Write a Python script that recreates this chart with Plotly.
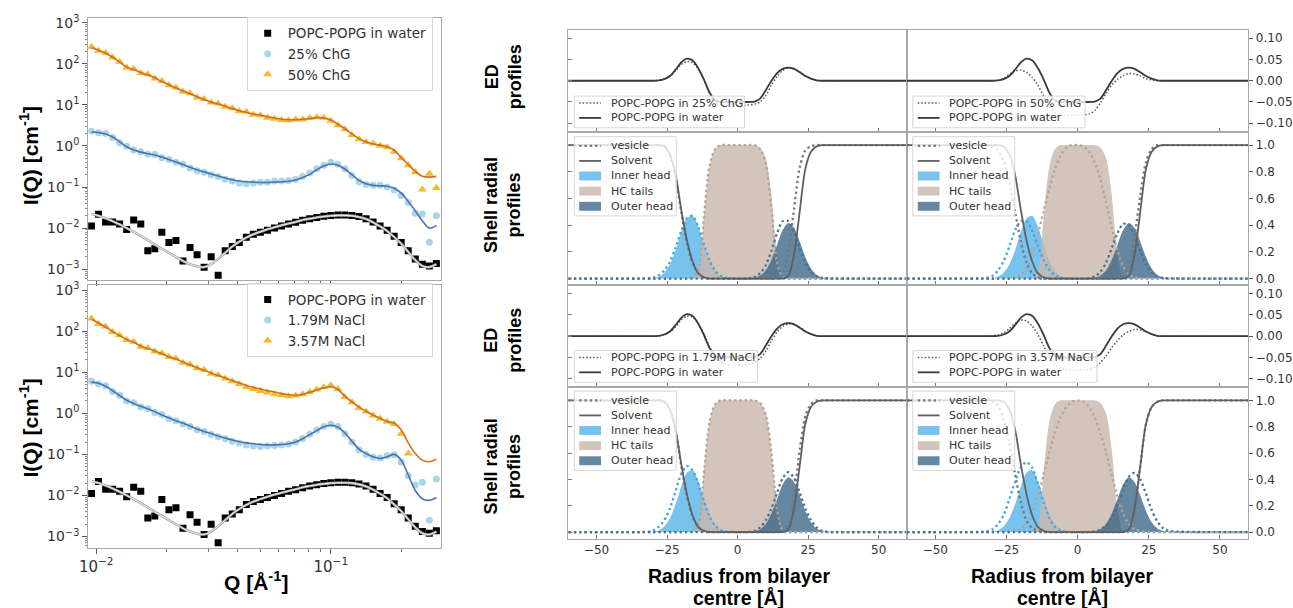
import plotly.graph_objects as go

# ---------------- SAXS data (left panels) ----------------
Q = [0.00955, 0.01023, 0.01097, 0.01175, 0.01259, 0.01349, 0.01445, 0.01549, 0.01660, 0.01778,
     0.01905, 0.02042, 0.02188, 0.02344, 0.02512, 0.02692, 0.02884, 0.03090, 0.03311, 0.03548,
     0.03802, 0.04074, 0.04365, 0.04677, 0.05012, 0.05370, 0.05754, 0.06166, 0.06607, 0.07079,
     0.07586, 0.08128, 0.08710, 0.09333, 0.1000, 0.1072, 0.1148, 0.1230, 0.1318, 0.1413,
     0.1514, 0.1622, 0.1738, 0.1862, 0.1995, 0.2138, 0.2291, 0.2455, 0.2630, 0.2818]

DATA_WATER = [0.0112, 0.0219, 0.0141, 0.0141, 0.0126, 0.0093, 0.0158, 0.0126, 0.00282, 0.00316,
              0.00794, 0.00447, 0.00501, 0.00158, 0.00339, 0.00224, 0.00112, 0.00200, 0.000708, 0.00282,
              0.00355, 0.00447, 0.00603, 0.00708, 0.00794, 0.00891, 0.0100, 0.0112, 0.0126, 0.0138,
              0.0155, 0.0170, 0.0182, 0.0195, 0.0204, 0.0209, 0.0209, 0.0204, 0.0191, 0.0170,
              0.0141, 0.0112, 0.00891, 0.00631, 0.00447, 0.00282, 0.00178, 0.00132, 0.00120, 0.00138]
FIT_WATER = [0.0224, 0.0200, 0.0174, 0.0148, 0.0123, 0.0100, 0.00813, 0.00646, 0.00513, 0.00398,
             0.00316, 0.00251, 0.00200, 0.00158, 0.00132, 0.00117, 0.00112, 0.00132, 0.00178, 0.00251,
             0.00355, 0.00468, 0.00589, 0.00708, 0.00813, 0.00933, 0.0105, 0.0117, 0.0129, 0.0141,
             0.0158, 0.0170, 0.0182, 0.0191, 0.0200, 0.0204, 0.0204, 0.0200, 0.0186, 0.0166,
             0.0138, 0.0110, 0.00851, 0.00603, 0.00417, 0.00263, 0.00166, 0.00120, 0.00112, 0.00132]

DATA_CHG25 = [2.30, 2.10, 2.00, 1.60, 1.20, 0.98, 0.80, 0.72, 0.63, 0.62,
              0.52, 0.47, 0.40, 0.36, 0.29, 0.25, 0.23, 0.20, 0.18, 0.155,
              0.14, 0.125, 0.12, 0.125, 0.13, 0.13, 0.14, 0.14, 0.145, 0.155,
              0.18, 0.22, 0.28, 0.34, 0.40, 0.36, 0.28, 0.19, 0.135, 0.115,
              0.11, 0.11, 0.10, 0.085, 0.062, 0.042, 0.023, 0.022, 0.0045, 0.020]
FIT_CHG25 = [2.19, 2.14, 1.95, 1.66, 1.26, 0.955, 0.794, 0.708, 0.646, 0.603,
             0.537, 0.468, 0.407, 0.355, 0.302, 0.263, 0.234, 0.209, 0.186, 0.166,
             0.151, 0.141, 0.135, 0.132, 0.129, 0.129, 0.132, 0.135, 0.138, 0.148,
             0.170, 0.204, 0.263, 0.324, 0.363, 0.339, 0.275, 0.200, 0.145, 0.120,
             0.110, 0.107, 0.105, 0.0933, 0.0708, 0.0447, 0.0263, 0.0151, 0.0100, 0.0117]

DATA_CHG50 = [262, 208, 186, 142, 113, 82.0, 74.5, 60.0, 55.5, 44.0,
              38.5, 30.0, 26.5, 21.0, 19.2, 15.2, 13.9, 11.4, 10.8, 9.0,
              8.3, 7.0, 6.8, 5.8, 5.6, 4.9, 4.6, 4.3, 4.2, 4.4,
              4.4, 4.8, 5.0, 4.9, 4.1, 3.2, 2.55, 1.85, 1.45, 1.25,
              1.15, 1.02, 0.93, 0.72, 0.50, 0.34, 0.23, 0.087, 0.21, 0.095]
FIT_CHG50 = [251, 214, 182, 145, 110, 83.2, 72.4, 61.7, 53.7, 45.7,
             37.2, 30.9, 25.7, 21.9, 18.6, 15.8, 13.5, 11.7, 10.5, 9.33,
             8.13, 7.24, 6.61, 6.03, 5.62, 5.13, 4.79, 4.47, 4.37, 4.37,
             4.47, 4.68, 4.90, 4.79, 4.27, 3.39, 2.63, 1.95, 1.51, 1.26,
             1.12, 1.05, 0.955, 0.794, 0.525, 0.355, 0.240, 0.182, 0.174, 0.182]

DATA_NACL179 = [6.0, 5.2, 4.7, 3.4, 2.75, 2.0, 1.8, 1.42, 1.3, 1.05,
                0.93, 0.74, 0.66, 0.55, 0.48, 0.40, 0.36, 0.31, 0.27, 0.24,
                0.21, 0.19, 0.17, 0.16, 0.155, 0.16, 0.165, 0.17, 0.18, 0.20,
                0.245, 0.31, 0.39, 0.48, 0.54, 0.48, 0.32, 0.20, 0.13, 0.10,
                0.085, 0.082, 0.092, 0.098, 0.065, 0.030, 0.018, 0.021, 0.0025, 0.025]
FIT_NACL179 = [5.75, 5.37, 4.57, 3.55, 2.69, 2.09, 1.74, 1.48, 1.29, 1.10,
               0.912, 0.776, 0.661, 0.575, 0.490, 0.417, 0.363, 0.324, 0.282, 0.251,
               0.224, 0.204, 0.191, 0.182, 0.174, 0.170, 0.170, 0.174, 0.182, 0.200,
               0.240, 0.302, 0.380, 0.468, 0.513, 0.457, 0.331, 0.209, 0.135, 0.105,
               0.0871, 0.0794, 0.0871, 0.100, 0.0724, 0.0316, 0.0132, 0.00832, 0.00759, 0.00891]

DATA_NACL357 = [205, 150, 130, 95, 80, 61, 55, 42, 39, 32,
                29, 23.5, 21.5, 17, 15.5, 12.5, 11.5, 9.2, 8.5, 7.0,
                6.0, 5.2, 4.4, 3.9, 3.5, 3.2, 2.9, 2.8, 2.6, 2.7,
                2.9, 3.3, 3.8, 4.3, 4.8, 3.9, 2.5, 1.85, 1.35, 1.1,
                0.88, 0.74, 0.62, 0.55, 0.32, 0.105, None, None, None, None]
FIT_NACL357 = [195, 158, 126, 97.7, 77.6, 63.1, 53.7, 43.7, 38.0, 33.1,
               28.2, 24.0, 20.9, 17.8, 15.1, 12.9, 11.2, 9.55, 8.32, 7.24,
               6.31, 5.50, 4.79, 4.27, 3.89, 3.55, 3.31, 3.02, 2.82, 2.75,
               2.88, 3.24, 3.72, 4.17, 4.47, 3.80, 2.63, 1.91, 1.41, 1.12,
               0.912, 0.759, 0.631, 0.575, 0.398, 0.191, 0.105, 0.0724, 0.0661, 0.0759]

SAXS_TICKS_Y = [1e-3, 1e-2, 1e-1, 1, 10, 100, 1000]
SAXS_TICKTEXT_Y = ['10<sup>−3</sup>', '10<sup>−2</sup>', '10<sup>−1</sup>', '10<sup>0</sup>',
                   '10<sup>1</sup>', '10<sup>2</sup>', '10<sup>3</sup>']
SAXS_TICKS_X = [0.01, 0.1]
SAXS_TICKTEXT_X = ['10<sup>−2</sup>', '10<sup>−1</sup>']

# ---------------- Profiles (right panels) ----------------
R = [-60, -45, -32, -30, -28,
     -26, -24, -22, -20, -18, -16, -14, -12,
     -10, -8, -6, -4, -2, 0, 2, 4,
     6, 8, 10, 12, 14, 16, 18, 20,
     22, 24, 26, 28, 30, 32, 45, 60]

ED_WATER = [0, 0, 0, 0, 0.001,
            0.004, 0.011, 0.026, 0.043, 0.052, 0.048, 0.030, 0.004,
            -0.027, -0.046, -0.050, -0.050, -0.050, -0.050, -0.050, -0.050,
            -0.049, -0.042, -0.022, 0.000, 0.018, 0.028, 0.031, 0.028,
            0.020, 0.011, 0.005, 0.001, 0, 0, 0, 0]
ED_CHG25 = [0, 0, 0, 0, 0.001,
            0.004, 0.010, 0.023, 0.038, 0.045, 0.043, 0.028, 0.003,
            -0.028, -0.050, -0.057, -0.058, -0.058, -0.058, -0.058, -0.057,
            -0.055, -0.050, -0.035, -0.010, 0.010, 0.024, 0.030, 0.029,
            0.021, 0.012, 0.005, 0.001, 0, 0, 0, 0]
ED_CHG50 = [0, 0, 0, 0, 0.001,
            0.006, 0.015, 0.023, 0.025, 0.020, 0.008, -0.010, -0.035,
            -0.060, -0.075, -0.080, -0.081, -0.081, -0.081, -0.080, -0.078,
            -0.070, -0.052, -0.030, -0.010, 0.003, 0.012, 0.017, 0.016,
            0.011, 0.005, 0.002, 0, 0, 0, 0, 0]
ED_NACL179 = [0, 0, 0, 0, 0.001,
              0.004, 0.010, 0.022, 0.038, 0.047, 0.045, 0.031, 0.006,
              -0.024, -0.048, -0.060, -0.066, -0.068, -0.068, -0.068, -0.066,
              -0.061, -0.052, -0.035, -0.011, 0.010, 0.023, 0.029, 0.029,
              0.021, 0.012, 0.005, 0.001, 0, 0, 0, 0]
ED_NACL357 = [0, 0, 0, 0.001, 0.003,
              0.008, 0.018, 0.030, 0.038, 0.036, 0.024, 0.004, -0.022,
              -0.048, -0.066, -0.075, -0.079, -0.080, -0.080, -0.080, -0.078,
              -0.073, -0.062, -0.046, -0.027, -0.010, 0.003, 0.011, 0.016,
              0.015, 0.010, 0.005, 0.001, 0, 0, 0, 0]

SOLVENT_WATER = [1, 1, 1, 1, 1,
                 0.99, 0.93, 0.78, 0.52, 0.29, 0.13, 0.04, 0.01,
                 0, 0, 0, 0, 0, 0, 0, 0,
                 0, 0, 0, 0, 0, 0, 0.02, 0.18,
                 0.50, 0.82, 0.95, 0.99, 1, 1, 1, 1]
INNER_WATER = [0, 0, 0, 0.003, 0.013,
               0.043, 0.105, 0.21, 0.345, 0.45, 0.47, 0.39, 0.26,
               0.14, 0.06, 0.02, 0.006, 0.001, 0, 0, 0,
               0, 0, 0, 0, 0, 0, 0, 0,
               0, 0, 0, 0, 0, 0, 0, 0]
TAILS_WATER = [0, 0, 0, 0, 0,
               0, 0, 0, 0, 0, 0, 0.04, 0.45,
               0.83, 0.97, 1.0, 1.0, 1.0, 1.0, 1.0, 1.0,
               1.0, 0.98, 0.90, 0.62, 0.18, 0.01, 0, 0,
               0, 0, 0, 0, 0, 0, 0, 0]
OUTER_WATER = [0, 0, 0, 0, 0,
               0, 0, 0, 0, 0, 0, 0, 0,
               0, 0, 0, 0, 0, 0, 0, 0.001,
               0.006, 0.022, 0.062, 0.141, 0.253, 0.364, 0.417, 0.380,
               0.277, 0.161, 0.075, 0.027, 0.008, 0.002, 0, 0]

VESICLE_CHG25 = [1, 1, 1, 1, 1,
                 0.99, 0.92, 0.76, 0.50, 0.27, 0.12, 0.04, 0.01,
                 0, 0, 0, 0, 0, 0, 0, 0,
                 0, 0, 0, 0, 0.005, 0.03, 0.20, 0.52,
                 0.83, 0.96, 0.99, 1, 1, 1, 1, 1]
INNER_CHG25 = [0, 0, 0.002, 0.008, 0.025,
               0.06, 0.125, 0.23, 0.355, 0.45, 0.47, 0.39, 0.26,
               0.14, 0.06, 0.02, 0.006, 0.001, 0, 0, 0,
               0, 0, 0, 0, 0, 0, 0, 0,
               0, 0, 0, 0, 0, 0, 0, 0]
TAILS_CHG25 = [0, 0, 0, 0, 0,
               0, 0, 0, 0, 0, 0.01, 0.06, 0.45,
               0.84, 0.97, 1.0, 1.0, 1.0, 1.0, 1.0, 1.0,
               1.0, 0.97, 0.86, 0.52, 0.12, 0.01, 0, 0,
               0, 0, 0, 0, 0, 0, 0, 0]
OUTER_CHG25 = [0, 0, 0, 0, 0,
               0, 0, 0, 0, 0, 0, 0, 0,
               0, 0, 0, 0, 0, 0, 0, 0.002,
               0.012, 0.04, 0.10, 0.21, 0.34, 0.43, 0.43, 0.35,
               0.23, 0.12, 0.05, 0.017, 0.005, 0.001, 0, 0]

VESICLE_CHG50 = [1, 1, 1.0, 0.99, 0.96,
                 0.88, 0.72, 0.50, 0.28, 0.12, 0.04, 0.01, 0,
                 0, 0, 0, 0, 0, 0, 0, 0,
                 0, 0, 0, 0, 0.005, 0.02, 0.09, 0.32,
                 0.62, 0.87, 0.97, 1.0, 1, 1, 1, 1]
INNER_CHG50 = [0, 0, 0.005, 0.02, 0.06,
               0.13, 0.24, 0.36, 0.43, 0.43, 0.36, 0.25, 0.14,
               0.07, 0.025, 0.008, 0.002, 0, 0, 0, 0,
               0, 0, 0, 0, 0, 0, 0, 0,
               0, 0, 0, 0, 0, 0, 0, 0]
TAILS_CHG50 = [0, 0, 0, 0, 0,
               0, 0, 0.01, 0.03, 0.08, 0.18, 0.33, 0.50,
               0.67, 0.82, 0.92, 0.98, 1.0, 1.0, 0.99, 0.95,
               0.87, 0.74, 0.57, 0.38, 0.21, 0.09, 0.03, 0.01,
               0, 0, 0, 0, 0, 0, 0, 0]
OUTER_CHG50 = [0, 0, 0, 0, 0,
               0, 0, 0, 0, 0, 0, 0, 0,
               0, 0, 0, 0, 0, 0, 0, 0.003,
               0.015, 0.05, 0.12, 0.23, 0.34, 0.41, 0.40, 0.32,
               0.21, 0.11, 0.045, 0.015, 0.004, 0.001, 0, 0]

VESICLE_NACL179 = [1, 1, 1, 1, 1,
                   0.99, 0.93, 0.77, 0.51, 0.28, 0.12, 0.04, 0.01,
                   0, 0, 0, 0, 0, 0, 0, 0,
                   0, 0, 0, 0, 0, 0.01, 0.06, 0.27,
                   0.62, 0.88, 0.97, 1.0, 1, 1, 1, 1]
INNER_NACL179 = [0, 0, 0.003, 0.012, 0.04,
                 0.09, 0.18, 0.31, 0.44, 0.50, 0.47, 0.37, 0.24,
                 0.12, 0.05, 0.015, 0.004, 0.001, 0, 0, 0,
                 0, 0, 0, 0, 0, 0, 0, 0,
                 0, 0, 0, 0, 0, 0, 0, 0]
TAILS_NACL179 = [0, 0, 0, 0, 0,
                 0, 0, 0, 0, 0, 0.005, 0.05, 0.43,
                 0.83, 0.97, 1.0, 1.0, 1.0, 1.0, 1.0, 1.0,
                 1.0, 0.98, 0.89, 0.60, 0.17, 0.01, 0, 0,
                 0, 0, 0, 0, 0, 0, 0, 0]
OUTER_NACL179 = [0, 0, 0, 0, 0,
                 0, 0, 0, 0, 0, 0, 0, 0,
                 0, 0, 0, 0, 0, 0, 0, 0.002,
                 0.01, 0.035, 0.09, 0.18, 0.30, 0.41, 0.455, 0.41,
                 0.30, 0.18, 0.09, 0.035, 0.01, 0.002, 0, 0]

VESICLE_NACL357 = [1, 1, 1.0, 0.99, 0.96,
                   0.86, 0.68, 0.44, 0.23, 0.09, 0.03, 0.01, 0,
                   0, 0, 0, 0, 0, 0, 0, 0,
                   0, 0, 0, 0, 0, 0, 0.02, 0.18,
                   0.50, 0.82, 0.95, 0.99, 1, 1, 1, 1]
INNER_NACL357 = [0, 0, 0.006, 0.02, 0.06,
                 0.13, 0.25, 0.38, 0.49, 0.53, 0.49, 0.37, 0.23,
                 0.11, 0.04, 0.012, 0.003, 0, 0, 0, 0,
                 0, 0, 0, 0, 0, 0, 0, 0,
                 0, 0, 0, 0, 0, 0, 0, 0]
TAILS_NACL357 = [0, 0, 0, 0, 0,
                 0, 0, 0.01, 0.02, 0.06, 0.14, 0.27, 0.43,
                 0.60, 0.75, 0.87, 0.95, 0.99, 1.0, 0.99, 0.95,
                 0.87, 0.75, 0.60, 0.43, 0.27, 0.14, 0.06, 0.02,
                 0.01, 0, 0, 0, 0, 0, 0, 0]
OUTER_NACL357 = [0, 0, 0, 0, 0,
                 0, 0, 0, 0, 0, 0, 0, 0,
                 0, 0, 0, 0, 0, 0, 0, 0.001,
                 0.005, 0.02, 0.05, 0.11, 0.21, 0.32, 0.42, 0.45,
                 0.40, 0.29, 0.17, 0.08, 0.03, 0.01, 0, 0]

R_TICKS = [-50, -25, 0, 25, 50]
ED_TICKS = [-0.10, -0.05, 0.0, 0.05, 0.10]
SHELL_TICKS = [0.0, 0.2, 0.4, 0.6, 0.8, 1.0]

SHELL_LABELS = ['vesicle', 'Solvent', 'Inner head', 'HC tails', 'Outer head']

# ---------------- styles ----------------
C_SQ = '#000000'
C_CIRC = '#a8d5e8'
C_TRI = '#f7b82a'
C_FIT_BLUE = '#4c72b0'
C_FIT_ORANGE = '#cf6f22'
C_INNER = 'rgba(86,180,233,0.80)'
C_TAILS = 'rgba(201,184,172,0.82)'
C_OUTER = 'rgba(50,95,130,0.75)'
ED_DOT = dict(color='#555555', width=1.5, dash='1.5px,2px')
ED_SOLID = dict(color='#3a3a3a', width=1.8)
VES_DOT = dict(color='#777777', width=2.3, dash='2.3px,3px')
SOLV_SOLID = dict(color='#606060', width=1.8)

W, H = 1293, 608


def px_x(p):
    return p / W


def px_y(p):
    return 1 - p / H


def merge(*ds, **kw):
    out = {}
    for d in ds:
        out.update(d)
    out.update(kw)
    return out


fig = go.Figure()


def saxs_panel(xa, ya, leg, series):
    fig.add_trace(go.Scatter(x=Q, y=DATA_WATER, mode='markers', name='POPC-POPG in water',
                             marker=dict(symbol='square', size=7, color=C_SQ),
                             xaxis=xa, yaxis=ya, legend=leg))
    fig.add_trace(go.Scatter(x=Q, y=FIT_WATER, mode='lines', line=dict(color='#a8a8a8', width=2.6, shape='spline'),
                             showlegend=False, xaxis=xa, yaxis=ya, hoverinfo='skip'))
    fig.add_trace(go.Scatter(x=Q, y=FIT_WATER, mode='lines', line=dict(color='#f4f4f4', width=0.9, shape='spline'),
                             showlegend=False, xaxis=xa, yaxis=ya, hoverinfo='skip'))
    for name, data, fit, sym, col, fcol, msz in series:
        fig.add_trace(go.Scatter(x=Q, y=data, mode='markers', name=name,
                                 marker=dict(symbol=sym, size=msz, color=col),
                                 xaxis=xa, yaxis=ya, legend=leg))
        fig.add_trace(go.Scatter(x=Q, y=fit, mode='lines', line=dict(color=fcol, width=1.6, shape='spline'),
                                 showlegend=False, xaxis=xa, yaxis=ya, hoverinfo='skip'))


saxs_panel('x', 'y', 'legend', [
    ('25% ChG', DATA_CHG25, FIT_CHG25, 'circle', C_CIRC, C_FIT_BLUE, 7),
    ('50% ChG', DATA_CHG50, FIT_CHG50, 'triangle-up', C_TRI, C_FIT_ORANGE, 8),
])
saxs_panel('x2', 'y2', 'legend2', [
    ('1.79M NaCl', DATA_NACL179, FIT_NACL179, 'circle', C_CIRC, C_FIT_BLUE, 7),
    ('3.57M NaCl', DATA_NACL357, FIT_NACL357, 'triangle-up', C_TRI, C_FIT_ORANGE, 8),
])

# panel: ED axes, shell axes, legend box origin (px), ED legend width, label, arrays
PANELS = [
    ('x3', 'y3', 'x5', 'y5', 571, 0, 172, 'POPC-POPG in 25% ChG',
     ED_CHG25, VESICLE_CHG25, INNER_CHG25, TAILS_CHG25, OUTER_CHG25),
    ('x4', 'y4', 'x6', 'y6', 913, 0, 174, 'POPC-POPG in 50% ChG',
     ED_CHG50, VESICLE_CHG50, INNER_CHG50, TAILS_CHG50, OUTER_CHG50),
    ('x7', 'y7', 'x9', 'y9', 571, 257, 185, 'POPC-POPG in 1.79M NaCl',
     ED_NACL179, VESICLE_NACL179, INNER_NACL179, TAILS_NACL179, OUTER_NACL179),
    ('x8', 'y8', 'x10', 'y10', 913, 257, 186, 'POPC-POPG in 3.57M NaCl',
     ED_NACL357, VESICLE_NACL357, INNER_NACL357, TAILS_NACL357, OUTER_NACL357),
]

shapes = []
annotations = []
LEG_FONT = dict(family='DejaVu Sans', size=11, color='#333333')


def legend_box(x0, y0, w, h):
    shapes.append(dict(type='rect', xref='paper', yref='paper', layer='above',
                       x0=px_x(x0), x1=px_x(x0 + w), y0=px_y(y0 + h), y1=px_y(y0),
                       line=dict(color='#d6d6d6', width=1), fillcolor='rgba(255,255,255,0.8)'))


def legend_line(x0, yc, style, text):
    shapes.append(dict(type='line', xref='paper', yref='paper', layer='above',
                       x0=px_x(x0 + 5), x1=px_x(x0 + 27), y0=px_y(yc), y1=px_y(yc), line=style))
    annotations.append(dict(text=text, x=px_x(x0 + 35), y=px_y(yc), xanchor='left', yanchor='middle',
                            xref='paper', yref='paper', showarrow=False, font=LEG_FONT))


def legend_patch(x0, yc, color, text):
    shapes.append(dict(type='rect', xref='paper', yref='paper', layer='above',
                       x0=px_x(x0 + 5), x1=px_x(x0 + 27), y0=px_y(yc + 4.5), y1=px_y(yc - 4.5),
                       line=dict(width=0), fillcolor=color))
    annotations.append(dict(text=text, x=px_x(x0 + 35), y=px_y(yc), xanchor='left', yanchor='middle',
                            xref='paper', yref='paper', showarrow=False, font=LEG_FONT))


for exa, eya, sxa, sya, lx, dy, edw, lab, ed, ves, inn, tai, out in PANELS:
    fig.add_trace(go.Scatter(x=R, y=ed, mode='lines', name=lab, showlegend=False,
                             line=merge(ED_DOT, shape='spline', smoothing=0.8), xaxis=exa, yaxis=eya))
    fig.add_trace(go.Scatter(x=R, y=ED_WATER, mode='lines', name='POPC-POPG in water', showlegend=False,
                             line=merge(ED_SOLID, shape='spline', smoothing=0.8), xaxis=exa, yaxis=eya))
    for nm, arr, col in [('Inner head', INNER_WATER, C_INNER),
                         ('HC tails', TAILS_WATER, C_TAILS),
                         ('Outer head', OUTER_WATER, C_OUTER)]:
        fig.add_trace(go.Scatter(x=R, y=arr, mode='lines', name=nm, fill='tozeroy', fillcolor=col, showlegend=False,
                                 line=dict(width=0, color=col, shape='spline', smoothing=0.8),
                                 xaxis=sxa, yaxis=sya))
    for arr, col in [(inn, '#3aa6e4'), (tai, '#b3a397'), (out, '#3f7299')]:
        fig.add_trace(go.Scatter(x=R, y=arr, mode='lines', showlegend=False, hoverinfo='skip',
                                 line=dict(color=col, width=2.3, dash='2.3px,3px', shape='spline', smoothing=0.8),
                                 xaxis=sxa, yaxis=sya))
    fig.add_trace(go.Scatter(x=R, y=ves, mode='lines', name='vesicle', showlegend=False,
                             line=merge(VES_DOT, shape='spline', smoothing=0.8), xaxis=sxa, yaxis=sya))
    fig.add_trace(go.Scatter(x=R, y=SOLVENT_WATER, mode='lines', name='Solvent', showlegend=False,
                             line=merge(SOLV_SOLID, shape='spline', smoothing=0.8), xaxis=sxa, yaxis=sya))

    legend_box(lx, 92 + dy, edw, 32)
    legend_line(lx, 99 + dy, ED_DOT, lab)
    legend_line(lx, 114 + dy, ED_SOLID, 'POPC-POPG in water')
    legend_box(lx, 133 + dy, 103, 80)
    legend_line(lx, 142.3 + dy, VES_DOT, SHELL_LABELS[0])
    legend_line(lx, 157.5 + dy, SOLV_SOLID, SHELL_LABELS[1])
    legend_patch(lx, 172.7 + dy, C_INNER, SHELL_LABELS[2])
    legend_patch(lx, 188 + dy, C_TAILS, SHELL_LABELS[3])
    legend_patch(lx, 203.3 + dy, C_OUTER, SHELL_LABELS[4])

# ---------------- layout ----------------
TICKFONT_L = dict(family='DejaVu Sans', size=14, color='#333333')
TICKFONT_R = dict(family='DejaVu Sans', size=12, color='#333333')

base_axis = dict(showgrid=False, zeroline=False, showline=True, linecolor='#a8a8a8', linewidth=1, mirror=True)

saxs_x = merge(base_axis, type='log', range=[-2.034, -0.532], domain=[px_x(80), px_x(436)],
               tickvals=SAXS_TICKS_X, ticktext=SAXS_TICKTEXT_X, ticks='outside', ticklen=5, tickcolor='#555555',
               tickfont=dict(family='DejaVu Sans', size=15, color='#333333'),
               minor=dict(ticks='outside', ticklen=3, tickcolor='#777777', dtick='D1'))
saxs_y = merge(base_axis, type='log', range=[-3.27, 3.12],
               tickvals=SAXS_TICKS_Y, ticktext=SAXS_TICKTEXT_Y, ticks='outside', ticklen=5, tickcolor='#555555',
               tickfont=TICKFONT_L,
               minor=dict(ticks='outside', ticklen=2.5, tickcolor='#888888', dtick='D1'))

col1 = [px_x(565), px_x(907)]
col2 = [px_x(907), px_x(1252)]
ed1 = [px_y(128), px_y(25)]
sh1 = [px_y(283), px_y(128)]
ed2 = [px_y(386), px_y(283)]
sh2 = [px_y(539), px_y(386)]

rx = merge(base_axis, range=[-60, 60], tickvals=R_TICKS, ticks='inside', ticklen=4, tickcolor='#777777',
           showticklabels=False, tickfont=TICKFONT_R)
ed_y = merge(base_axis, range=[-0.12, 0.12], tickvals=ED_TICKS, tickformat='.2f', tickfont=TICKFONT_R)
sh_y = merge(base_axis, range=[-0.05, 1.1], tickvals=SHELL_TICKS, tickformat='.1f', tickfont=TICKFONT_R)
left_y = dict(ticks='inside', ticklen=4, tickcolor='#777777', showticklabels=False)
right_y = dict(side='right', ticks='outside', ticklen=4, tickcolor='#555555', showticklabels=True)

legend_base = dict(bgcolor='rgba(255,255,255,0.8)', bordercolor='#d6d6d6', borderwidth=1,
                   tracegroupgap=0, itemwidth=30,
                   font=dict(family='DejaVu Sans', size=13.5, color='#333333'))

TITLE_FONT = dict(family='Liberation Sans', size=21, color='#000000')
ROW_FONT = dict(family='Liberation Sans', size=18, color='#000000')
XR_FONT = dict(family='Liberation Sans', size=19.5, color='#000000')

title_annots = [
    dict(text='<b>I(Q) [cm<sup>-1</sup>]</b>', x=px_x(20), y=px_y(152), textangle=-90, font=TITLE_FONT),
    dict(text='<b>I(Q) [cm<sup>-1</sup>]</b>', x=px_x(20), y=px_y(427), textangle=-90, font=TITLE_FONT),
    dict(text='<b>Q [Å<sup>-1</sup>]</b>', x=px_x(250), y=px_y(582), font=TITLE_FONT),
    dict(text='<b>ED<br>profiles</b>', x=px_x(499), y=px_y(72), textangle=-90, font=ROW_FONT),
    dict(text='<b>Shell radial<br>profiles</b>', x=px_x(498), y=px_y(202), textangle=-90, font=ROW_FONT),
    dict(text='<b>ED<br>profiles</b>', x=px_x(499), y=px_y(338), textangle=-90, font=ROW_FONT),
    dict(text='<b>Shell radial<br>profiles</b>', x=px_x(498), y=px_y(466), textangle=-90, font=ROW_FONT),
    dict(text='<b>Radius from bilayer</b>', x=px_x(737), y=px_y(577), font=XR_FONT),
    dict(text='<b>centre [Å]</b>', x=px_x(737), y=px_y(598), font=XR_FONT),
    dict(text='<b>Radius from bilayer</b>', x=px_x(1064), y=px_y(577), font=XR_FONT),
    dict(text='<b>centre [Å]</b>', x=px_x(1064), y=px_y(598), font=XR_FONT),
]
for a in title_annots:
    a.update(xref='paper', yref='paper', showarrow=False, xanchor='center', yanchor='middle')
annotations = title_annots + annotations

fig.update_layout(
    width=W, height=H, margin=dict(l=0, r=0, t=0, b=0),
    paper_bgcolor='white', plot_bgcolor='white',
    font=dict(family='DejaVu Sans', color='#333333'),
    showlegend=True,
    xaxis=merge(saxs_x, anchor='y', showticklabels=False),
    yaxis=merge(saxs_y, anchor='x', domain=[px_y(278), px_y(13)]),
    xaxis2=merge(saxs_x, anchor='y2'),
    yaxis2=merge(saxs_y, anchor='x2', domain=[px_y(548), px_y(283)]),
    xaxis3=merge(rx, anchor='y3', domain=col1),
    yaxis3=merge(ed_y, left_y, anchor='x3', domain=ed1),
    xaxis4=merge(rx, anchor='y4', domain=col2),
    yaxis4=merge(ed_y, right_y, anchor='x4', domain=ed1),
    xaxis5=merge(rx, anchor='y5', domain=col1),
    yaxis5=merge(sh_y, left_y, anchor='x5', domain=sh1),
    xaxis6=merge(rx, anchor='y6', domain=col2),
    yaxis6=merge(sh_y, right_y, anchor='x6', domain=sh1),
    xaxis7=merge(rx, anchor='y7', domain=col1),
    yaxis7=merge(ed_y, left_y, anchor='x7', domain=ed2),
    xaxis8=merge(rx, anchor='y8', domain=col2),
    yaxis8=merge(ed_y, right_y, anchor='x8', domain=ed2),
    xaxis9=merge(rx, anchor='y9', domain=col1, showticklabels=True),
    yaxis9=merge(sh_y, left_y, anchor='x9', domain=sh2),
    xaxis10=merge(rx, anchor='y10', domain=col2, showticklabels=True),
    yaxis10=merge(sh_y, right_y, anchor='x10', domain=sh2),
    legend=merge(legend_base, x=px_x(428), y=px_y(12), xanchor='right', yanchor='top'),
    legend2=merge(legend_base, x=px_x(428), y=px_y(281), xanchor='right', yanchor='top'),
    shapes=shapes,
    annotations=annotations,
)

fig.write_html('out.html')
